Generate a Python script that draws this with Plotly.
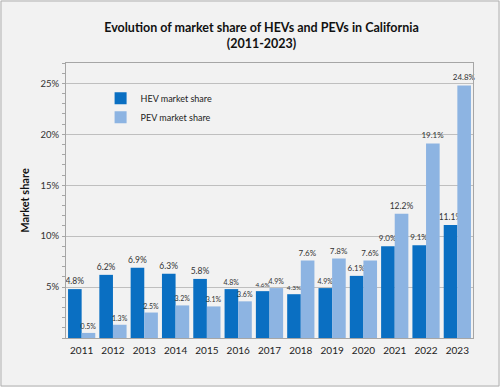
import plotly.graph_objects as go

years = ["2011", "2012", "2013", "2014", "2015", "2016", "2017", "2018", "2019", "2020", "2021", "2022", "2023"]
hev_share = [4.8, 6.2, 6.9, 6.3, 5.8, 4.8, 4.6, 4.3, 4.9, 6.1, 9.0, 9.1, 11.1]
pev_share = [0.5, 1.3, 2.5, 3.2, 3.1, 3.6, 4.9, 7.6, 7.8, 7.6, 12.2, 19.1, 24.8]
y_ticks = [5, 10, 15, 20, 25]
y_tick_labels = ["5%", "10%", "15%", "20%", "25%"]

# label font sizes (style only)
hev_label_size = [8.5, 8.5, 8.5, 8.5, 8.5, 7, 6.5, 6.5, 7, 8, 8, 8, 8.5]
pev_label_size = [7, 7, 7, 7, 7, 7, 7, 8, 8, 8, 8.5, 8, 8]

W, H = 500, 387
L, R, T, B = 66, 27, 63, 49
pw, ph = W - L - R, H - T - B

fig = go.Figure()
fig.add_trace(go.Bar(
    x=years, y=hev_share, name="HEV market share",
    marker=dict(color="#0a6fc2", line=dict(width=0)),
    texttemplate="%{y:.1f}%", textposition="outside", cliponaxis=False,
    constraintext="none",
    textfont=dict(size=hev_label_size, color="#333333", family="Lato"),
))
fig.add_trace(go.Bar(
    x=years, y=pev_share, name="PEV market share",
    marker=dict(color="#8db4e2", line=dict(width=0)),
    texttemplate="%{y:.1f}%", textposition="outside", cliponaxis=False,
    constraintext="none",
    textfont=dict(size=pev_label_size, color="#333333", family="Lato"),
))

fig.update_layout(
    width=W, height=H,
    margin=dict(l=L, r=R, t=T, b=B),
    paper_bgcolor="#f2f2f2", plot_bgcolor="#f2f2f2",
    font=dict(family="Lato", size=10, color="#333333"),
    barmode="group", bargap=0.13, bargroupgap=0,
    title=dict(text="<b>Evolution of market share of HEVs and PEVs in California<br>(2011-2023)</b>",
               x=0.523, xanchor="center", y=0.918, yanchor="middle",
               font=dict(size=12.5, color="#111111", family="Lato")),
    legend=dict(x=0.085, y=0.925, xanchor="left", yanchor="top",
                bgcolor="rgba(0,0,0,0)", font=dict(size=9, color="#222222"),
                itemwidth=30),
    xaxis=dict(showline=True, linecolor="#a6a6a6", mirror=True, ticks="",
               tickfont=dict(size=10, color="#222222"), showgrid=False,
               ticklabelstandoff=3),
    yaxis=dict(range=[0, 27], tickvals=y_ticks, ticktext=y_tick_labels,
               showgrid=True, gridcolor="#bfbfbf", gridwidth=1,
               showline=True, linecolor="#a6a6a6", mirror=True,
               ticks="", tickfont=dict(size=9.5, color="#333333"),
               ticklabelstandoff=4,
               minor=dict(dtick=1, ticks="outside", ticklen=3, tickcolor="#a6a6a6", showgrid=False),
               title=dict(text="<b>Market share</b>", font=dict(size=11, color="#111111"), standoff=8),
               zeroline=False),
    shapes=[dict(type="rect", xref="paper", yref="paper",
                 x0=-(L - 1) / pw, x1=1 + (R - 1) / pw,
                 y0=-(B - 1) / ph, y1=1 + (T - 1) / ph,
                 line=dict(color="#b0b0b0", width=1), layer="below")],
)

fig.write_html("out.html", config={"displayModeBar": False},
               post_script="document.body.style.margin='0';document.body.style.overflow='hidden';")
